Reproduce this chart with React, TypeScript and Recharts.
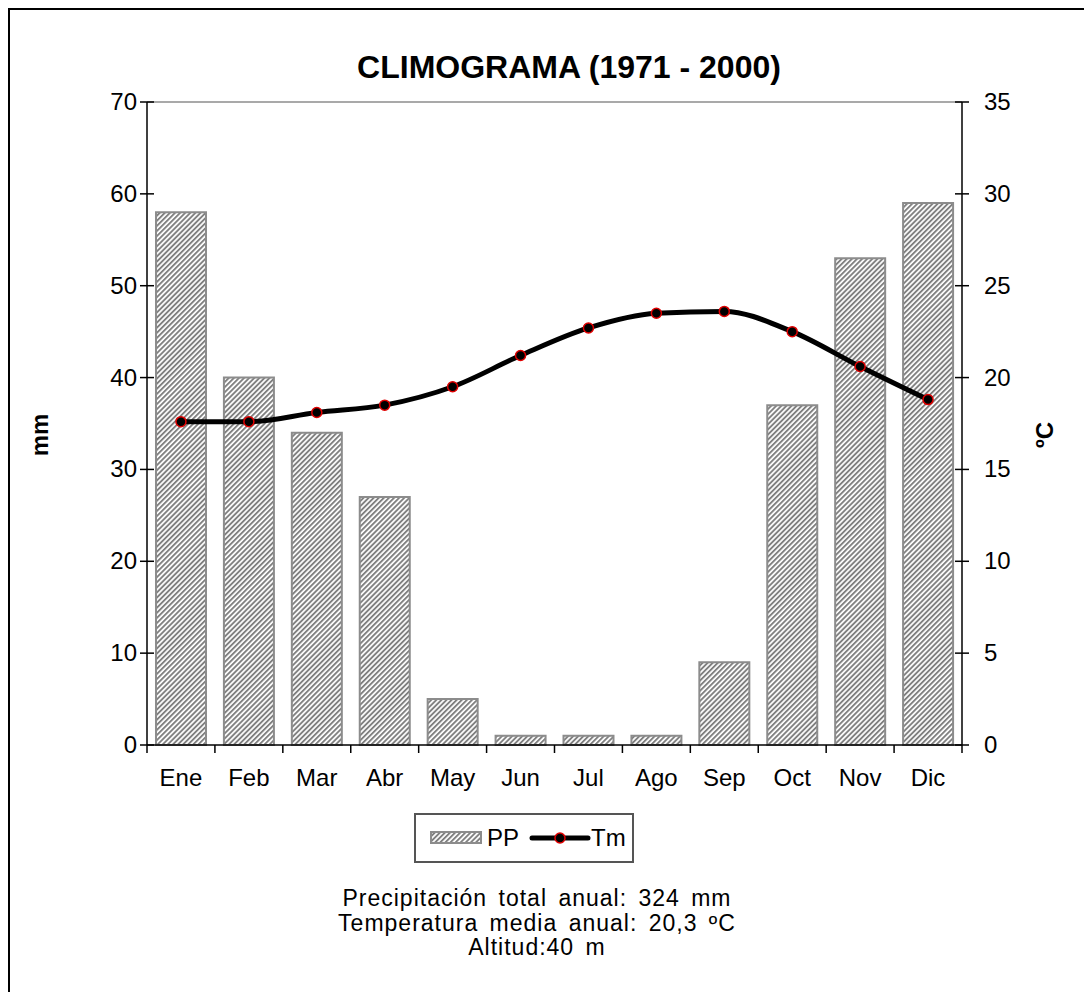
import React from "react";
import {
  Bar,
  ComposedChart,
  Line,
  ReferenceLine,
  XAxis,
  YAxis,
} from "recharts";

const months = ["Ene", "Feb", "Mar", "Abr", "May", "Jun", "Jul", "Ago", "Sep", "Oct", "Nov", "Dic"];
const precip = [58, 40, 34, 27, 5, 1, 1, 1, 9, 37, 53, 59];
const temp = [17.6, 17.6, 18.1, 18.5, 19.5, 21.2, 22.7, 23.5, 23.6, 22.5, 20.6, 18.8];
const mmTicks = [0, 10, 20, 30, 40, 50, 60, 70];
const cTicks = [0, 5, 10, 15, 20, 25, 30, 35];
const notes = [
  "Precipitación total anual: 324 mm",
  "Temperatura media anual: 20,3 ºC",
  "Altitud:40 m",
];

const data = months.map((m, i) => ({ month: m, PP: precip[i], Tm: temp[i] }));

const FONT = "'Liberation Sans', Arial, sans-serif";
const W = 1082;
const H = 982;
const MARGIN = { top: 92, right: 70, bottom: 207, left: 77 };
const AXIS_W = 60;
const PLOT_W = W - MARGIN.left - MARGIN.right - 2 * AXIS_W;
const BAND = PLOT_W / months.length;
const TICK = 7;
const GAP = 8;

function MonthTick(props: any) {
  const { x, y, payload, index } = props;
  const top = y - GAP;
  const left = x - BAND / 2;
  return (
    <g>
      <line x1={left} y1={top} x2={left} y2={top + 8} stroke="#000" strokeWidth={1.5} />
      {index === months.length - 1 && (
        <line x1={x + BAND / 2} y1={top} x2={x + BAND / 2} y2={top + 8} stroke="#000" strokeWidth={1.5} />
      )}
      <text x={x} y={top + 41} textAnchor="middle" fontSize={24} fontFamily={FONT} fill="#000">
        {payload.value}
      </text>
    </g>
  );
}

function ValueTick(props: any) {
  const { x, y, payload, side } = props;
  const axisX = side === "left" ? x + TICK + GAP : x - TICK - GAP;
  return (
    <g>
      <line x1={axisX - TICK} y1={y} x2={axisX + TICK} y2={y} stroke="#000" strokeWidth={1.5} />
      <text
        x={side === "left" ? x + 5 : x + 7}
        y={y}
        dy={8}
        textAnchor={side === "left" ? "end" : "start"}
        fontSize={24}
        fontFamily={FONT}
        fill="#000"
      >
        {payload.value}
      </text>
    </g>
  );
}

function LegendBox() {
  return (
    <div
      style={{
        position: "absolute",
        left: 404,
        top: 803,
        width: 220,
        height: 50,
        border: "2px solid #555",
        display: "flex",
        alignItems: "center",
        fontSize: 24,
        color: "#000",
        boxSizing: "border-box",
        background: "#fff",
      }}
    >
      <svg width={54} height={14} style={{ marginLeft: 14 }}>
        <rect x={1} y={1} width={50} height={11} fill="url(#hatch)" stroke="#8c8c8c" strokeWidth={2} />
      </svg>
      <span style={{ marginLeft: 3 }}>PP</span>
      <svg width={62} height={16} style={{ marginLeft: 10 }}>
        <line x1={3} y1={8} x2={59} y2={8} stroke="#000" strokeWidth={5} strokeLinecap="round" />
        <circle cx={31} cy={8} r={5} fill="#000" stroke="#e00000" strokeWidth={1.5} />
      </svg>
      <span>Tm</span>
    </div>
  );
}

const axisLabel: React.CSSProperties = {
  position: "absolute",
  fontSize: 24,
  fontWeight: "bold",
  width: 60,
  textAlign: "center",
  lineHeight: "26px",
  transform: "rotate(-90deg)",
};

export default function App(): React.ReactElement {
  return (
    <div
      style={{
        position: "relative",
        width: W + 20,
        height: H + 20,
        borderTop: "2px solid #000",
        borderLeft: "2px solid #000",
        background: "#fff",
        fontFamily: FONT,
      }}
    >
      <div
        style={{
          position: "absolute",
          left: 0,
          width: 1118,
          top: 41,
          lineHeight: "32px",
          textAlign: "center",
          fontSize: 32,
          fontWeight: "bold",
        }}
      >
        CLIMOGRAMA (1971 - 2000)
      </div>
      <div style={{ ...axisLabel, left: 0, top: 412 }}>mm</div>
      <div style={{ ...axisLabel, left: 1005, top: 412 }}>ºC</div>
      <ComposedChart width={W} height={H} data={data} margin={MARGIN}>
        <defs>
          <pattern id="hatch" width={3.6} height={3.6} patternUnits="userSpaceOnUse" patternTransform="rotate(45)">
            <rect width={3.6} height={3.6} fill="#fff" />
            <rect width={1.9} height={3.6} fill="#808080" />
          </pattern>
        </defs>
        <XAxis
          dataKey="month"
          xAxisId="x"
          axisLine={{ stroke: "#000", strokeWidth: 1.5 }}
          tickLine={false}
          tick={<MonthTick />}
          height={40}
          interval={0}
        />
        <YAxis
          yAxisId="left"
          domain={[0, 70]}
          ticks={mmTicks}
          width={AXIS_W}
          axisLine={{ stroke: "#000", strokeWidth: 1.5 }}
          tickLine={false}
          tickSize={TICK}
          tickMargin={GAP}
          tick={<ValueTick side="left" />}
        />
        <YAxis
          yAxisId="right"
          orientation="right"
          domain={[0, 35]}
          ticks={cTicks}
          width={AXIS_W}
          axisLine={{ stroke: "#000", strokeWidth: 1.5 }}
          tickLine={false}
          tickSize={TICK}
          tickMargin={GAP}
          tick={<ValueTick side="right" />}
        />
        <ReferenceLine yAxisId="left" xAxisId="x" y={70} stroke="#8c8c8c" strokeWidth={1.5} />
        <Bar
          dataKey="PP"
          xAxisId="x"
          yAxisId="left"
          barSize={50}
          fill="url(#hatch)"
          stroke="#8c8c8c"
          strokeWidth={2}
          isAnimationActive={false}
        />
        <Line
          dataKey="Tm"
          xAxisId="x"
          yAxisId="right"
          type="monotone"
          stroke="#000"
          strokeWidth={5}
          dot={{ r: 5, fill: "#000", stroke: "#e00000", strokeWidth: 1.5 }}
          activeDot={false}
          isAnimationActive={false}
        />
      </ComposedChart>
      <LegendBox />
      <div
        style={{
          position: "absolute",
          left: 0,
          width: 1054,
          top: 876,
          textAlign: "center",
          fontSize: 23,
          letterSpacing: 1,
          wordSpacing: 4,
          lineHeight: "24.5px",
          color: "#000",
        }}
      >
        {notes.map((n) => (
          <div key={n}>{n}</div>
        ))}
      </div>
    </div>
  );
}
